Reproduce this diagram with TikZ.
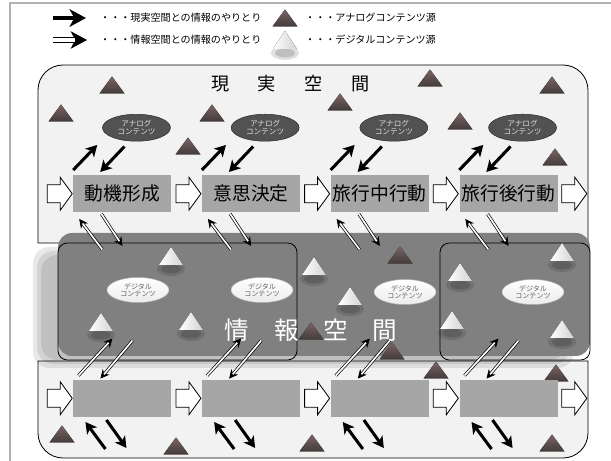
\documentclass[tikz,border=0pt]{standalone}
\usepackage{fontspec}
\setmainfont{Noto Sans CJK JP}
\usetikzlibrary{matrix,calc,arrows.meta,shapes.geometric,shadows}

\newcommand\pxu{0.03cm}
\newcommand\infolink[2]{\draw[infohead] #1 -- #2; \draw[infoline] #1 -- #2;}

\definecolor{realbg}{RGB}{242,242,242}
\definecolor{stepgray}{RGB}{166,166,166}
\definecolor{infogray}{RGB}{128,128,128}
\definecolor{analogdark}{RGB}{68,58,58}
\definecolor{analoglight}{RGB}{122,100,100}

\tikzset{
  stepbox/.style={fill=stepgray, minimum width=98*\pxu, minimum height=37*\pxu, inner sep=0pt,
    font=\fontsize{16}{18}\selectfont},
  analogell/.style={ellipse, draw=black!85, fill=black!68, minimum width=68*\pxu, minimum height=27*\pxu,
    inner sep=0pt, align=center, text=gray!25, font=\fontsize{6.5}{7}\selectfont},
  digitalell/.style={ellipse, draw=gray!60, top color=white, bottom color=gray!15, minimum width=62*\pxu,
    minimum height=25*\pxu, inner sep=0pt, align=center, text=gray!75!black, font=\fontsize{6}{6.5}\selectfont,
    drop shadow={opacity=0.4, shadow xshift=0pt, shadow yshift=-3pt}},
  realarrow/.style={line width=2.6pt, -{Stealth[length=9.5pt,width=10.5pt,inset=2.5pt]}},
  infohead/.style={line width=0.6pt, -{Stealth[length=7.5pt,width=7.5pt]}},
  infoline/.style={double=white, double distance=1.4pt, line width=0.6pt, shorten >=4.8pt},
  legendtext/.style={anchor=west, inner sep=0pt, font=\fontsize{8.6}{10}\selectfont},
  analogtri/.pic={\fill[top color=analoglight, bottom color=analogdark] (-12.5,8.5) -- (12.5,8.5) -- (0,-8.5) -- cycle;},
  digitaltri/.pic={\fill[black, opacity=0.12] (0,13) ellipse [x radius=14, y radius=7];
    \fill[black, opacity=0.15] (0,13) ellipse [x radius=10, y radius=4.5];
    \fill[left color=white, right color=gray!35] (-12,9) -- (12,9) -- (0,-9) -- cycle;},
  blockarrow/.pic={\draw[fill=white, line width=0.7pt] (-25,-9) -- (-12,-9) -- (-12,-16.5) -- (0,0)
    -- (-12,16.5) -- (-12,9) -- (-25,9) -- cycle;}
}

\begin{document}
\begin{tikzpicture}[x=\pxu, y=-\pxu]
\useasboundingbox (0,0) rectangle (611,461);
\draw[gray!60, line width=1pt] (10,461) -- (10,3) -- (611,3);

% legend
\node[legendtext] (lg1) at (100,18) {・・・現実空間との情報のやりとり};
\node[legendtext] (lg2) at (100,40) {・・・情報空間との情報のやりとり};
\node[legendtext] (lg3) at (305,18) {・・・アナログコンテンツ源};
\node[legendtext] (lg4) at (305,40) {・・・デジタルコンテンツ源};
\draw[line width=3.4pt, -{Stealth[length=14pt,width=15pt,inset=4pt]}] ([shift={(-47,0)}]lg1.west) -- ([shift={(-14,0)}]lg1.west);
\draw[line width=0.9pt, -{Stealth[length=14pt,width=15pt,inset=4pt]}] ([shift={(-47,0)}]lg2.west) -- ([shift={(-13,0)}]lg2.west);
\draw[double=white, double distance=2.6pt, line width=0.9pt, shorten >=10pt] ([shift={(-47,0)}]lg2.west) -- ([shift={(-13,0)}]lg2.west);
\pic at (285,18) {analogtri};
\pic at (285,40) {digitaltri};

% spaces
\draw[fill=realbg, line width=0.7pt] (38,243) -- (38,90) arc[start angle=180, end angle=270, radius=25]
  -- (563,65) arc[start angle=270, end angle=360, radius=25] -- (588,243) -- cycle;
\draw[fill=realbg, line width=0.7pt] (38,361) -- (38,433) arc[start angle=180, end angle=90, radius=25]
  -- (563,458) arc[start angle=90, end angle=0, radius=25] -- (588,361) -- cycle;
\foreach \d in {0,4,8}
  \fill[black, opacity=0.09, rounded corners=14pt] (33+\d,247+\d) rectangle (574-\d,368-\d);
\fill[infogray, rounded corners=12pt] (58,233) rectangle (590,356);
\draw[line width=0.7pt, rounded corners=8pt] (58,243) rectangle (297,360);
\draw[line width=0.7pt, rounded corners=8pt] (440,243) rectangle (590,360);

\foreach \x/\y in {112/85, 61/113, 212/113, 188/146, 430/78, 340/102, 460/121, 552/85, 555/157,
  400/255, 311/331, 392/351, 62/434, 176/446, 312/443, 436/370, 556/373, 552/443}
  \pic at (\x,\y) {analogtri};
\foreach \x/\y in {171/256, 101/322, 191/321, 314/266, 350/296, 460/272, 452/320, 562/252, 562/329}
  \pic at (\x,\y) {digitaltri};

\node[font=\fontsize{15.5}{16}\selectfont, inner sep=0pt] (realtitle) at (290.5,84) {現\hspace{1.58em}実\hspace{1.58em}空\hspace{1.58em}間};
\node[text=white, font=\fontsize{21}{22}\selectfont, inner sep=0pt] (infotitle) at (311,330) {情　報　空　間};

\node[digitalell] (d1) at (138,290) {デジタル\\コンテンツ};
\node[digitalell] (d2) at (262,290) {デジタル\\コンテンツ};
\node[digitalell] (d3) at (405,292) {デジタル\\コンテンツ};
\node[digitalell] (d4) at (533,292) {デジタル\\コンテンツ};

\matrix (flow) [matrix of nodes, nodes in empty cells, nodes={stepbox},
                column sep=26.2pt, row sep=143pt] at (315.5,296) {
動機形成 & 意思決定 & 旅行中行動 & 旅行後行動 \\
         &          &            &            \\
};

\foreach \r in {1,2} {
  \foreach \c in {1,...,4}
    \pic at ([shift={(-1,0)}]flow-\r-\c.west) {blockarrow};
  \pic at ([shift={(29,0)}]flow-\r-4.east) {blockarrow};
}

\foreach \c in {1,...,4} {
  \node[analogell] (a\c) at ([shift={(14,-66)}]flow-1-\c) {アナログ\\コンテンツ};
  \draw[realarrow] ([shift={(0,-5)}]flow-1-\c.north west) -- ([shift={(-15,7.5)}]a\c.south west);
  \draw[realarrow] ([shift={(-12,5)}]a\c.south) -- ([shift={(27,-3)}]flow-1-\c.north west);
  \infolink{([shift={(29,37)}]flow-1-\c.south west)}{([shift={(6,6.5)}]flow-1-\c.south west)}
  \infolink{([shift={(-21,1.5)}]flow-1-\c.south)}{([shift={(0,33.5)}]flow-1-\c.south)}
  \infolink{([shift={(-44,-4)}]flow-2-\c.north)}{([shift={(-10,-41)}]flow-2-\c.north)}
  \infolink{([shift={(10,-39)}]flow-2-\c.north)}{([shift={(-22,-1)}]flow-2-\c.north)}
  \draw[realarrow] ([shift={(-17,32)}]flow-2-\c.south) -- ([shift={(-37,5)}]flow-2-\c.south);
  \draw[realarrow] ([shift={(-16,3)}]flow-2-\c.south) -- ([shift={(4,31)}]flow-2-\c.south);
}
\end{tikzpicture}
\end{document}
